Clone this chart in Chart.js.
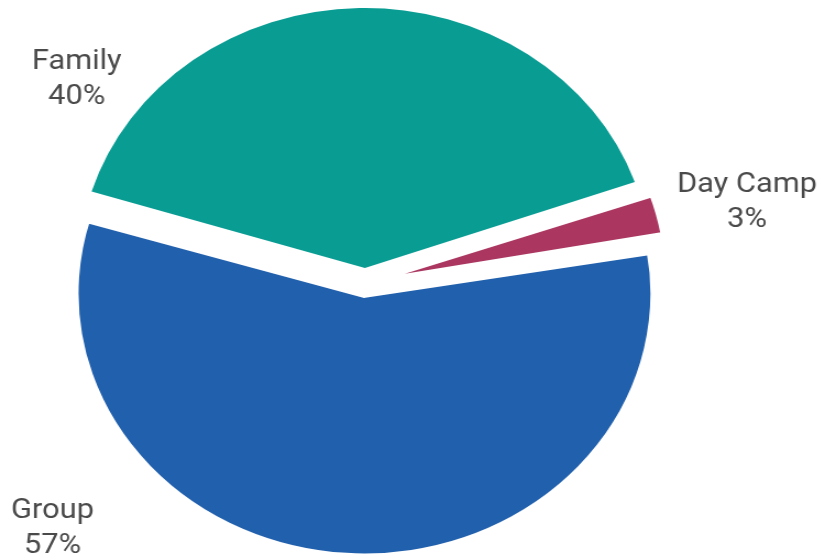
<!DOCTYPE html>
<html lang="en">
<head>
  <meta charset="UTF-8">
  <title>Camp types</title>
  <script src="https://cdn.jsdelivr.net/npm/chart.js"></script>
  <style>
    html, body {
      margin: 0;
      padding: 0;
      background: #fff;
      overflow: hidden;
    }
    /* the reference is a little wider than tall, so the whole chart is stretched */
    #wrap {
      width: 746px;
      height: 560px;
      transform: scaleX(1.1);
      transform-origin: 0 0;
    }
  </style>
</head>
<body>
  <div id="wrap">
    <canvas id="pie"></canvas>
  </div>

  <script>
    // Data
    const categories = ["Family", "Day Camp", "Group"];
    const shares = [40, 2.6, 57.4];
    const percentLabels = ["40%", "3%", "57%"];
    const sliceColors = ["#089c93", "#ab3761", "#2160ad"];

    // where each label sits: angle clockwise from top, distance in radii
    const labelAngle = [308.15, 76.55, 229.54];
    const labelDistance = [1.314, 1.406, 1.472];

    // Draws the two-line labels outside the slices
    const outsideLabels = {
      id: "outsideLabels",
      afterDatasetsDraw(chart) {
        const ctx = chart.ctx;
        const area = chart.chartArea;
        const cx = (area.left + area.right) / 2;
        const cy = (area.top + area.bottom) / 2;
        const meta = chart.getDatasetMeta(0);
        ctx.save();
        ctx.font = "28px Roboto";
        ctx.fillStyle = "#4a4a4a";
        ctx.textAlign = "center";
        ctx.textBaseline = "alphabetic";
        meta.data.forEach((arc, i) => {
          const r = arc.outerRadius * labelDistance[i];
          const a = (labelAngle[i] - 90) * Math.PI / 180;
          const x = cx + Math.cos(a) * r;
          const y = cy + Math.sin(a) * r;
          ctx.fillText(categories[i], x, y - 7.5);
          ctx.fillText(percentLabels[i], x, y + 27.5);
        });
        ctx.restore();
      }
    };

    const ctx = document.getElementById("pie").getContext("2d");
    new Chart(ctx, {
      type: "pie",
      data: {
        labels: categories,
        datasets: [{
          data: shares,
          backgroundColor: sliceColors,
          // white borders trim the big slice's rim and the thin slice's tip
          borderColor: "#fff",
          borderWidth: [0, 4, 8.8],
          borderJoinStyle: "round",
          offset: [60, 46, 42],
          hoverOffset: 0
        }]
      },
      options: {
        responsive: true,
        maintainAspectRatio: false,
        animation: false,
        rotation: -73.1,
        radius: 253.8,
        layout: { padding: { left: 0, right: 82, top: 6, bottom: 0 } },
        plugins: {
          legend: { display: false },
          tooltip: { enabled: false }
        },
        events: []
      },
      plugins: [outsideLabels]
    });
  </script>
</body>
</html>
